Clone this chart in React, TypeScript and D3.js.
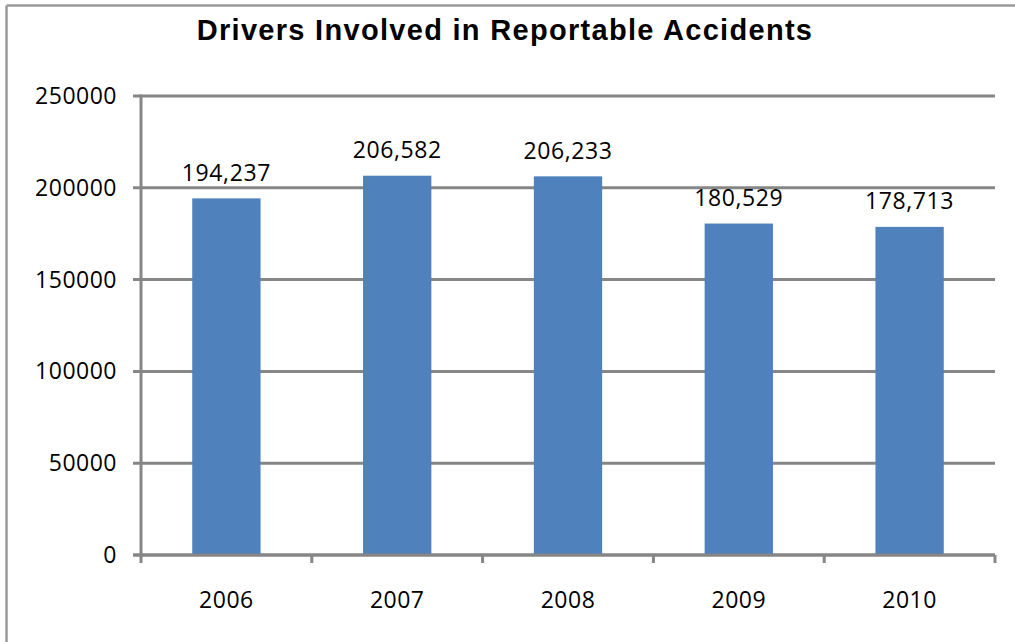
import React from "react";
import * as d3 from "d3";

const years = ["2006", "2007", "2008", "2009", "2010"];
const drivers = [194237, 206582, 206233, 180529, 178713];
const yTicks = [0, 50000, 100000, 150000, 200000, 250000];
const title = "Drivers Involved in Reportable Accidents";

const W = 1015;
const H = 642;
const left = 141;
const right = 995;
const top = 96;
const bottom = 555;

const labelFont = "'Open Sans', 'Noto Sans', sans-serif";
const gridColor = "#868686";

export default function App() {
  const x = d3.scaleBand<string>().domain(years).range([left, right]).paddingInner(0.6).paddingOuter(0.3);
  const y = d3.scaleLinear().domain([0, 250000]).range([bottom, top]);
  const fmt = d3.format(",");
  const step = x.step();
  const boundaries = d3.range(years.length + 1).map((i) => left + i * step);

  return (
    <svg width={W} height={H} style={{ position: "absolute", left: 0, top: 0, background: "#fff" }}>
      <rect x={0} y={0} width={W} height={H} fill="#fff" />
      {/* border */}
      <line x1={6.5} y1={5.5} x2={W + 2} y2={5.5} stroke="#9a9a9a" strokeWidth={2.5} />
      <line x1={6.5} y1={5.5} x2={6.5} y2={H + 2} stroke="#9a9a9a" strokeWidth={2.5} />

      <text x={505} y={39.5} textAnchor="middle" fontFamily="'Liberation Sans', Arial, sans-serif" fontWeight="bold" fontSize={29} letterSpacing={1.3} fill="#000">
        {title}
      </text>

      {/* gridlines */}
      {yTicks.map((t) => (
        <line key={"g" + t} x1={left - 8} x2={right} y1={y(t)} y2={y(t)} stroke={gridColor} strokeWidth={3} />
      ))}

      {/* bars */}
      {years.map((yr, i) => (
        <rect key={yr} x={x(yr)} y={y(drivers[i])} width={x.bandwidth()} height={bottom - y(drivers[i])} fill="#4f81bd" />
      ))}

      {/* axes */}
      <line x1={left} x2={left} y1={top - 1.5} y2={bottom + 1.5} stroke={gridColor} strokeWidth={3} />
      <line x1={left - 8} x2={right} y1={bottom} y2={bottom} stroke={gridColor} strokeWidth={3} />
      {boundaries.map((bx, i) => (
        <line key={"xt" + i} x1={bx} x2={bx} y1={bottom} y2={bottom + 8} stroke={gridColor} strokeWidth={3} />
      ))}

      {/* y labels */}
      {yTicks.map((t) => (
        <text key={"yl" + t} x={117} y={y(t)} dy="0.35em" textAnchor="end" fontFamily={labelFont} fontSize={23} letterSpacing={0.5} fill="#000">
          {t}
        </text>
      ))}

      {/* x labels */}
      {years.map((yr) => (
        <text key={"xl" + yr} x={(x(yr) as number) + x.bandwidth() / 2} y={608} textAnchor="middle" fontFamily={labelFont} fontSize={23} letterSpacing={0.5} fill="#000">
          {yr}
        </text>
      ))}

      {/* value labels */}
      {years.map((yr, i) => (
        <text key={"vl" + yr} x={(x(yr) as number) + x.bandwidth() / 2} y={y(drivers[i]) - 17.5} textAnchor="middle" fontFamily={labelFont} fontSize={23} letterSpacing={0.6} fill="#000">
          {fmt(drivers[i])}
        </text>
      ))}
    </svg>
  );
}
